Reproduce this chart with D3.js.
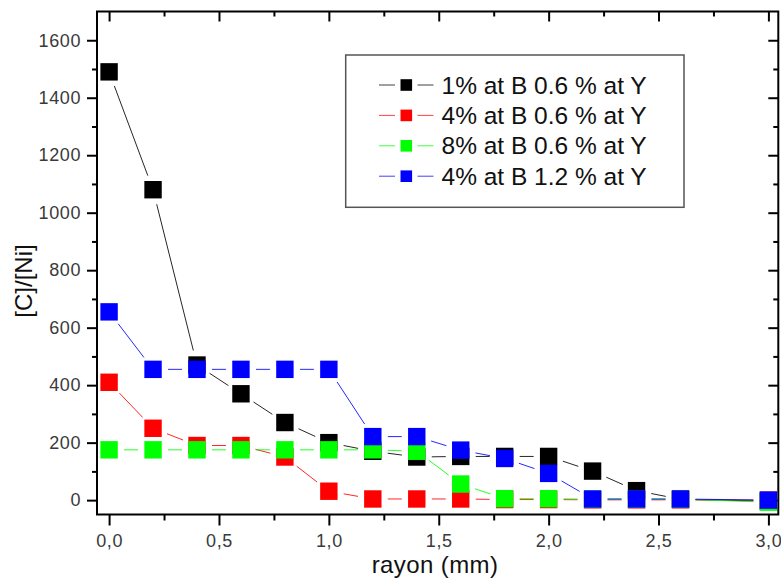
<!DOCTYPE html>
<html>
<head>
<meta charset="utf-8">
<script src="https://cdn.jsdelivr.net/npm/d3@7"></script>
<style>
  html, body { margin: 0; padding: 0; background: #fff; }
  svg { display: block; }
  text { font-family: "Liberation Sans", Arial, sans-serif; }
</style>
</head>
<body>
<script>
// ---- data ----
const xValues = [0, 0.2, 0.4, 0.6, 0.8, 1.0, 1.2, 1.4, 1.6, 1.8, 2.0, 2.2, 2.4, 2.6, 3.0];
const seriesNames = ["1% at B 0.6 % at Y", "4% at B 0.6 % at Y", "8% at B 0.6 % at Y", "4% at B 1.2 % at Y"];
const seriesColors = ["#000000", "#ff0000", "#00ff00", "#0000ff"];
const s1 = [1490, 1080, 470, 370, 270, 200, 170, 150, 152, 152, 152, 101, 33, 3, -4];
const s2 = [410, 250, 190, 190, 150, 31, 4, 4, 4, 2, 2, 1, 1, 1, 0];
const s3 = [175, 175, 175, 175, 175, 175, 175, 170, 56, 5, 5, 3, 3, 3, -7];
const s4 = [655, 455, 455, 455, 455, 455, 221, 221, 174, 145, 93, 4, 4, 4, 0];
const seriesValues = [s1, s2, s3, s4];
const xTicks = [0, 0.5, 1.0, 1.5, 2.0, 2.5, 3.0];
const xTickLabels = ["0,0", "0,5", "1,0", "1,5", "2,0", "2,5", "3,0"];
const xMinorTicks = [0.25, 0.75, 1.25, 1.75, 2.25, 2.75];
const yTicks = [0, 200, 400, 600, 800, 1000, 1200, 1400, 1600];
const yMinorTicks = [100, 300, 500, 700, 900, 1100, 1300, 1500];
const xLabel = "rayon (mm)";
const yLabel = "[C]/[Ni]";

// ---- layout ----
const W = 781, H = 578;
const L = 97, R = 778.3, T = 11.5, B = 514.5;
const x = d3.scaleLinear().domain([-0.055, 3.045]).range([L, R]);
const y = d3.scaleLinear().domain([-50, 1700]).range([B, T]);

const svg = d3.select("body").append("svg").attr("width", W).attr("height", H);

const tickColor = "#000";
const labelColor = "#3a3a3a";

function drawAxis(axisGen, transform, major, minor, labels) {
  const g = svg.append("g").attr("transform", transform);
  g.call(axisGen.tickValues(major).tickSize(major ? axisGen.tickSize() : 0));
  return g;
}

// bottom axis (outward)
const gb = svg.append("g").attr("transform", `translate(0,${B})`)
  .call(d3.axisBottom(x).tickValues(xTicks).tickSize(11).tickPadding(9)
    .tickFormat((d, i) => xTickLabels[i]));
svg.append("g").attr("transform", `translate(0,${B})`)
  .call(d3.axisBottom(x).tickValues(xMinorTicks).tickSize(6).tickFormat(""));
// top axis (inward)
svg.append("g").attr("transform", `translate(0,${T})`)
  .call(d3.axisBottom(x).tickValues(xTicks).tickSize(10).tickFormat(""));
svg.append("g").attr("transform", `translate(0,${T})`)
  .call(d3.axisBottom(x).tickValues(xMinorTicks).tickSize(5).tickFormat(""));
// left axis (outward)
const gl = svg.append("g").attr("transform", `translate(${L},0)`)
  .call(d3.axisLeft(y).tickValues(yTicks).tickSize(10).tickPadding(6).tickFormat(d3.format("d")));
svg.append("g").attr("transform", `translate(${L},0)`)
  .call(d3.axisLeft(y).tickValues(yMinorTicks).tickSize(5).tickFormat(""));
// right axis (inward)
svg.append("g").attr("transform", `translate(${R},0)`)
  .call(d3.axisLeft(y).tickValues(yTicks).tickSize(10).tickFormat(""));
svg.append("g").attr("transform", `translate(${R},0)`)
  .call(d3.axisLeft(y).tickValues(yMinorTicks).tickSize(5).tickFormat(""));

svg.selectAll(".domain").remove();
svg.selectAll(".tick line").attr("stroke", tickColor).attr("stroke-width", 2);
svg.selectAll(".tick text").attr("fill", labelColor).attr("font-size", 18)
  .attr("letter-spacing", "0.6px")
  .style("font-family", '"Liberation Sans", Arial, sans-serif');

// frame
svg.append("rect").attr("x", L).attr("y", T).attr("width", R - L).attr("height", B - T)
  .attr("fill", "none").attr("stroke", "#000").attr("stroke-width", 2);

// axis labels
svg.append("text").attr("x", 435).attr("y", 573).attr("text-anchor", "middle")
  .attr("font-size", 24).attr("fill", "#111").attr("letter-spacing", "0.4px").text(xLabel);
svg.append("text").attr("transform", "translate(32,281) rotate(-90)").attr("text-anchor", "middle")
  .attr("font-size", 24).attr("fill", "#111").text(yLabel);

// ---- series ----
const GAP = 15, MS = 17.4;
seriesValues.forEach((vals, si) => {
  const col = seriesColors[si];
  const pts = xValues.map((xv, i) => [x(xv), y(vals[i])]);
  const segs = [];
  for (let i = 0; i < pts.length - 1; i++) {
    const [x1, y1] = pts[i], [x2, y2] = pts[i + 1];
    const dx = x2 - x1, dy = y2 - y1, len = Math.hypot(dx, dy);
    if (len <= 2 * GAP) continue;
    const ux = dx / len, uy = dy / len;
    segs.push([x1 + ux * GAP, y1 + uy * GAP, x2 - ux * GAP, y2 - uy * GAP]);
  }
  const g = svg.append("g");
  g.selectAll("line").data(segs).join("line")
    .attr("x1", d => d[0]).attr("y1", d => d[1]).attr("x2", d => d[2]).attr("y2", d => d[3])
    .attr("stroke", col).attr("stroke-width", 1).attr("stroke-opacity", 0.85);
  g.selectAll("rect").data(pts).join("rect")
    .attr("x", d => d[0] - MS / 2).attr("y", d => d[1] - MS / 2)
    .attr("width", MS).attr("height", MS).attr("fill", col);
});

// ---- legend ----
const lg = svg.append("g");
lg.append("rect").attr("x", 345.7).attr("y", 55).attr("width", 684 - 345.7).attr("height", 207.3 - 55)
  .attr("fill", "#fff").attr("stroke", "#555").attr("stroke-width", 1.5);
seriesNames.forEach((name, i) => {
  const cy = 85 + i * 30.4;
  const col = seriesColors[i];
  lg.append("line").attr("x1", 379).attr("x2", 395).attr("y1", cy).attr("y2", cy)
    .attr("stroke", col).attr("stroke-width", 1).attr("stroke-opacity", 0.75);
  lg.append("line").attr("x1", 417.5).attr("x2", 433.5).attr("y1", cy).attr("y2", cy)
    .attr("stroke", col).attr("stroke-width", 1).attr("stroke-opacity", 0.75);
  lg.append("rect").attr("x", 406.3 - 5.8).attr("y", cy - 5.8).attr("width", 11.6).attr("height", 11.6)
    .attr("fill", col);
  lg.append("text").attr("x", 441.5).attr("y", cy + 8.6).attr("font-size", 24.5)
    .attr("fill", "#111").text(name);
});
</script>
</body>
</html>
